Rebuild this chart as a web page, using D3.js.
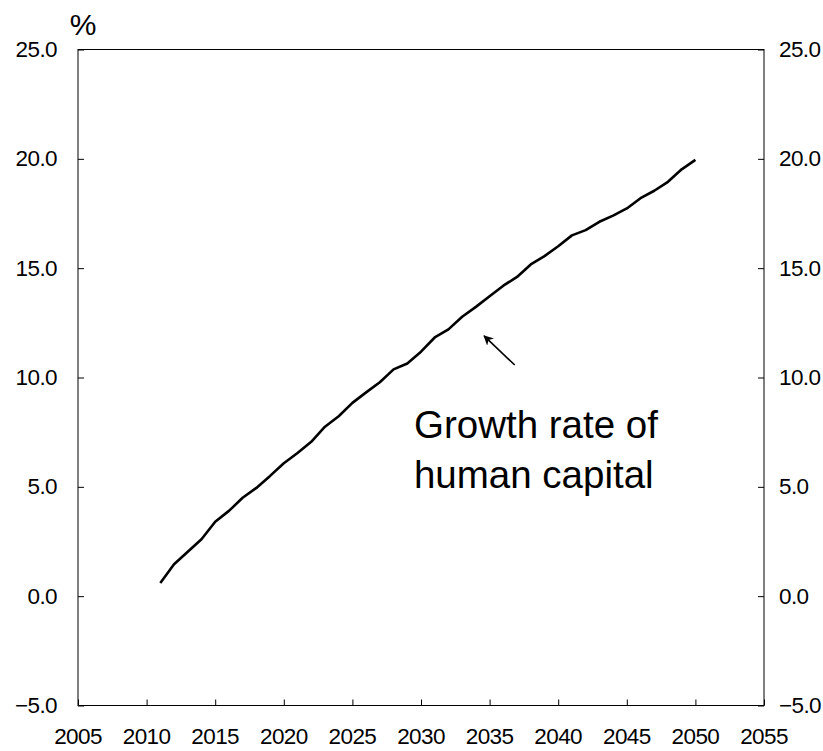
<!DOCTYPE html>
<html>
<head>
<meta charset="utf-8">
<script src="https://cdn.jsdelivr.net/npm/d3@7"></script>
<style>
  body { margin: 0; background: #fff; }
  svg { font-family: "Liberation Sans", Arial, sans-serif; }
</style>
</head>
<body>
<svg width="823" height="751"></svg>
<script>
var years = d3.range(2011, 2051);
var growth = [0.6, 1.46, 2.03, 2.6, 3.4, 3.9, 4.5, 4.95, 5.5, 6.08,
              6.55, 7.06, 7.75, 8.23, 8.84, 9.32, 9.78, 10.37, 10.64, 11.18,
              11.83, 12.2, 12.78, 13.23, 13.72, 14.2, 14.6, 15.17, 15.55, 16.0,
              16.5, 16.74, 17.12, 17.4, 17.73, 18.2, 18.54, 18.95, 19.52, 19.95];
var xTicks = d3.range(2005, 2056, 5);
var yTicks = [-5, 0, 5, 10, 15, 20, 25];
var label = ["Growth rate of", "human capital"];

var svg = d3.select("svg");
var margin = {left: 78, right: 59, top: 49.5, bottom: 45.5};
var W = 823, H = 751;

var x = d3.scaleLinear()
          .domain([2005, 2055])
          .range([margin.left, W - margin.right]);
var y = d3.scaleLinear()
          .domain([-5, 25])
          .range([H - margin.bottom, margin.top]);

// frame
svg.append("rect")
  .attr("x", x(2005)).attr("y", y(25))
  .attr("width", x(2055) - x(2005)).attr("height", y(-5) - y(25))
  .attr("fill", "none").attr("stroke", "#000").attr("stroke-width", 1);

var fmt = d3.format(".1f");

svg.append("g")
  .attr("transform", "translate(" + x(2005) + ",0)")
  .call(d3.axisRight(y).tickValues(yTicks).tickSize(6).tickFormat(""))
  .call(g => g.select(".domain").remove());

svg.append("g")
  .attr("transform", "translate(" + x(2055) + ",0)")
  .call(d3.axisLeft(y).tickValues(yTicks).tickSize(6).tickFormat(""))
  .call(g => g.select(".domain").remove());

svg.append("g")
  .attr("transform", "translate(0," + y(-5) + ")")
  .call(d3.axisTop(x).tickValues(xTicks).tickSize(6).tickFormat(""))
  .call(g => g.select(".domain").remove());

// tick labels
svg.append("g").selectAll("text")
  .data(yTicks).enter().append("text")
    .attr("x", x(2005) - 21)
    .attr("y", d => y(d))
    .attr("dy", "0.33em")
    .attr("text-anchor", "end")
    .attr("font-size", 22.5)
    .attr("letter-spacing", -0.6)
    .text(fmt);

svg.append("g").selectAll("text")
  .data(yTicks).enter().append("text")
    .attr("x", x(2055) + 15)
    .attr("y", d => y(d))
    .attr("dy", "0.33em")
    .attr("font-size", 22.5)
    .attr("letter-spacing", -0.6)
    .text(fmt);

svg.append("g").selectAll("text")
  .data(xTicks).enter().append("text")
    .attr("x", d => x(d))
    .attr("y", y(-5) + 38.5)
    .attr("text-anchor", "middle")
    .attr("font-size", 22.5)
    .attr("letter-spacing", -0.6)
    .text(d => d);

svg.append("text")
  .attr("x", 83).attr("y", 35)
  .attr("text-anchor", "middle")
  .attr("font-size", 30)
  .text("%");

// series
var line = d3.line()
  .x((d, i) => x(years[i]))
  .y(d => y(d));

svg.append("path")
  .datum(growth)
  .attr("d", line)
  .attr("fill", "none")
  .attr("stroke", "#000")
  .attr("stroke-width", 2.6)
  .attr("stroke-linejoin", "round");

// annotation
svg.append("defs").append("marker")
  .attr("id", "head")
  .attr("viewBox", "0 0 10 10")
  .attr("refX", 9).attr("refY", 5)
  .attr("markerWidth", 10).attr("markerHeight", 10)
  .attr("markerUnits", "userSpaceOnUse")
  .attr("orient", "auto")
  .append("path")
    .attr("d", "M0,0 L10,5 L0,10 L3,5 Z")
    .attr("fill", "#000");

svg.append("line")
  .attr("x1", x(2036.83)).attr("y1", y(10.57))
  .attr("x2", x(2034.6)).attr("y2", y(11.9))
  .attr("stroke", "#000").attr("stroke-width", 1.6)
  .attr("marker-end", "url(#head)");

svg.append("g").selectAll("text")
  .data(label).enter().append("text")
    .attr("x", x(2029.56) - 1)
    .attr("y", (d, i) => y(7.23) + i * 49.5)
    .attr("font-size", 38.5)
    .text(d => d);
</script>
</body>
</html>
